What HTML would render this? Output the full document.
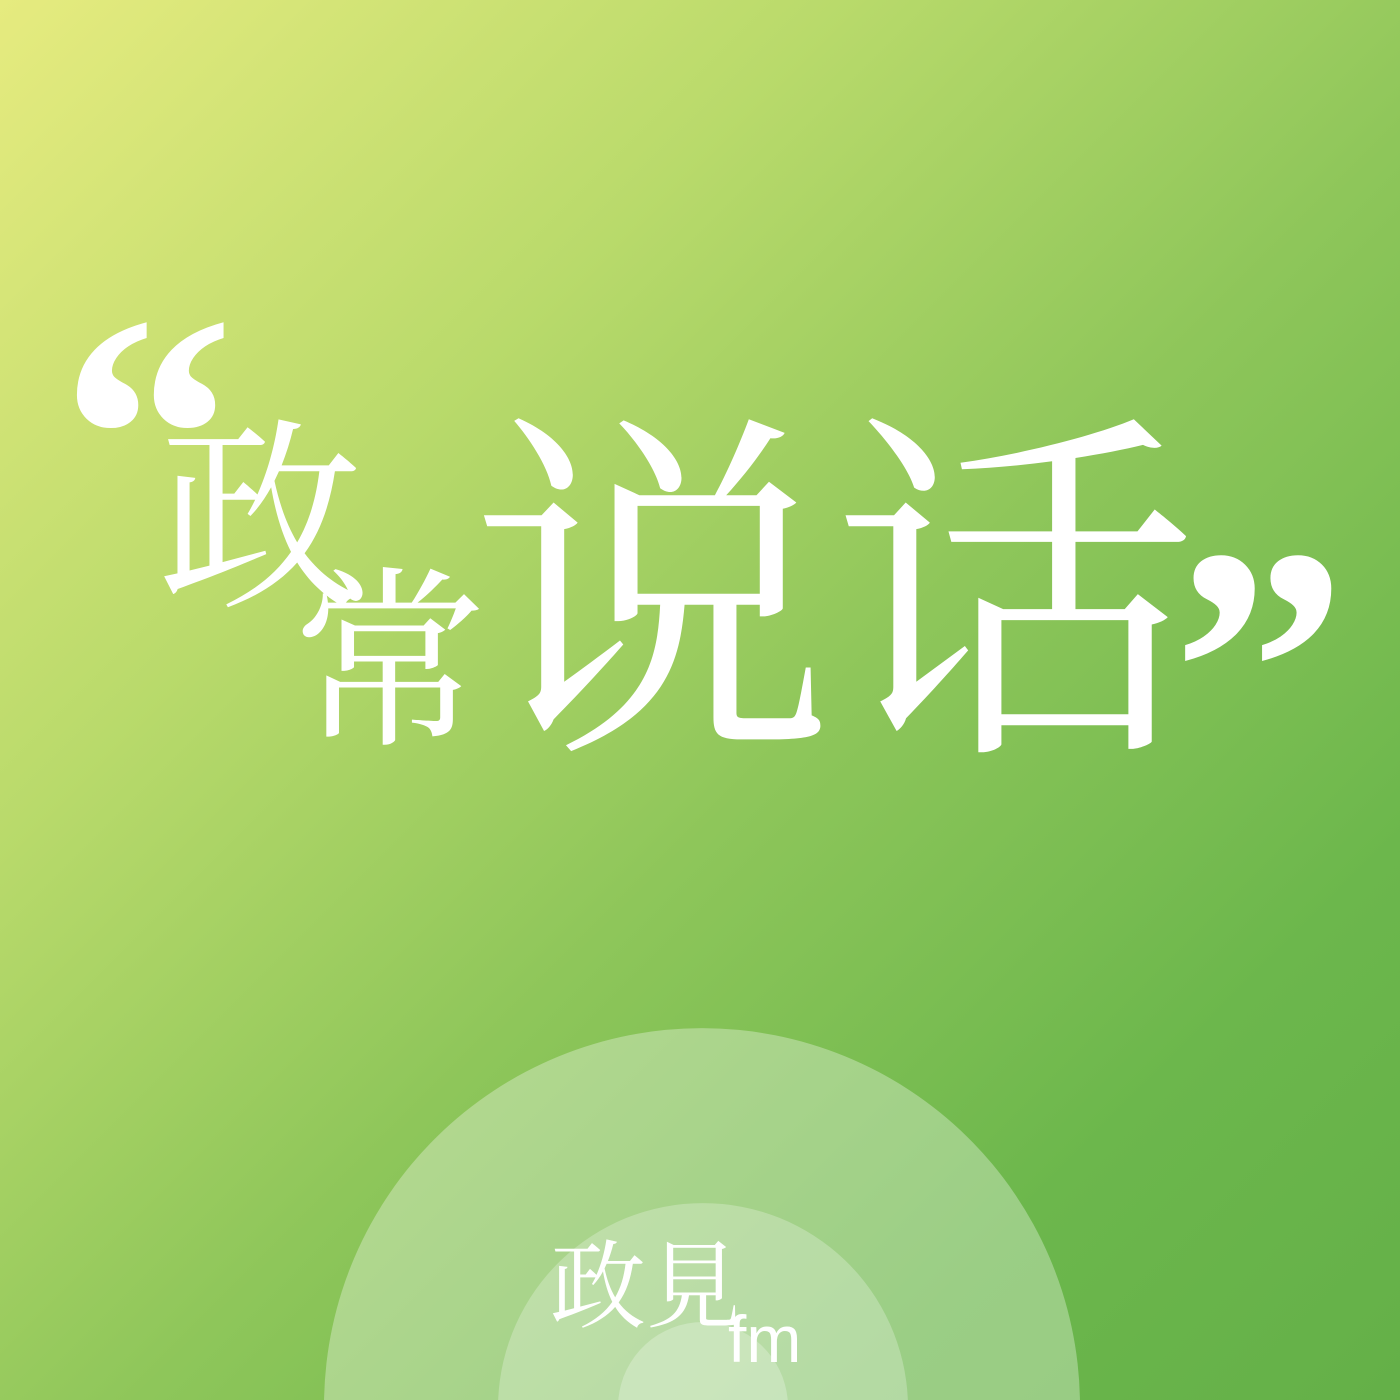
<!DOCTYPE html>
<html><head><meta charset="utf-8"><style>
html,body{margin:0;padding:0;width:1400px;height:1400px;overflow:hidden}
#bg{position:absolute;left:0;top:0;width:1400px;height:1400px;overflow:hidden;
background:linear-gradient(135deg,#e6eb7f 0%,#b9da6b 30%,#8ec65a 55%,#6cb74c 80%,#64b048 100%);
font-family:"Liberation Serif","Noto Serif CJK SC",serif;color:#fff}
.t{position:absolute;line-height:1;white-space:nowrap}
svg{position:absolute;left:0;top:0}
</style></head><body>
<div id="bg">
<svg width="1400" height="1400" viewBox="0 0 1400 1400">
<path d="M324.05 1400 A378 378 0 0 1 1079.95 1400 Z" fill="rgba(255,255,255,0.32)"/>
<path d="M498.16 1400 A205 205 0 0 1 907.84 1400 Z" fill="rgba(255,255,255,0.25)"/>
<path d="M618.29 1400 A85 85 0 0 1 787.71 1400 Z" fill="rgba(255,255,255,0.25)"/>
</svg>
<div class="t" style="left:60px;top:262px;font-size:350px;font-family:'Liberation Serif',serif;font-weight:bold">“</div>
<div class="t" style="left:158px;top:420px;font-size:205px">政</div>
<div class="t" style="left:292px;top:568px;font-size:195px">常</div>
<div class="t" style="left:470px;top:418px;font-size:365px">说</div>
<div class="t" style="left:832px;top:418px;font-size:365px">话</div>
<div class="t" style="left:1172px;top:495px;font-size:350px;font-family:'Liberation Serif',serif;font-weight:bold">”</div>
<div class="t" style="left:550px;top:1232px;font-size:96px;font-family:'Noto Serif CJK TC',serif">政見</div>
<div class="t" style="left:728px;top:1306px;font-size:66px;font-family:'Liberation Sans',sans-serif">fm</div>
</div>
</body></html>
